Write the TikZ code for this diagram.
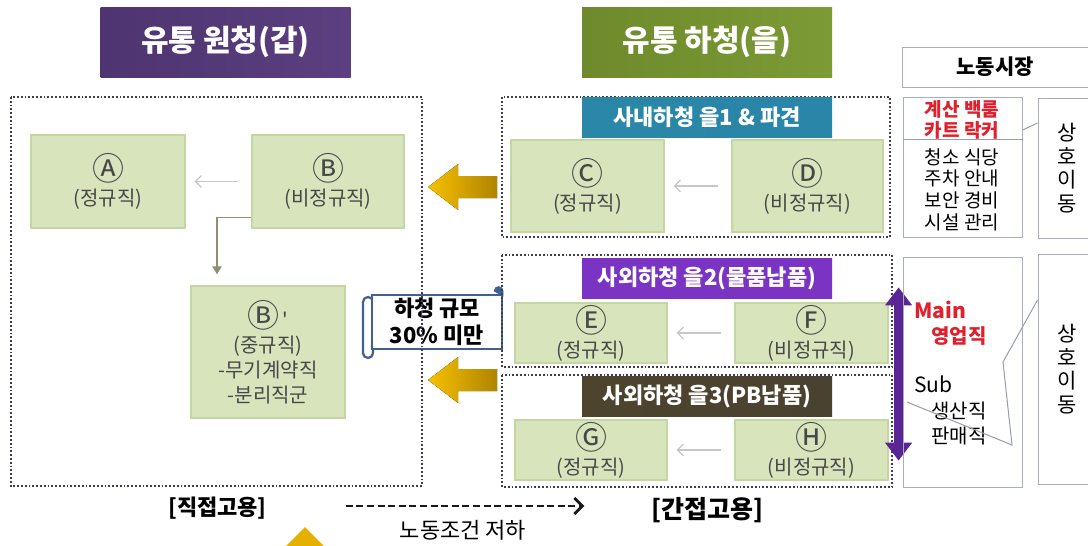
\documentclass[tikz,border=0pt]{standalone}
\usepackage{fontspec}
\setmainfont{Noto Sans CJK KR}
\usetikzlibrary{arrows.meta}

\definecolor{grfill}{HTML}{D8E4BC}
\definecolor{grline}{HTML}{C6D6A2}
\definecolor{grtext}{HTML}{474747}
\definecolor{dotline}{HTML}{3C3C55}
\definecolor{goldL}{HTML}{F6C000}
\definecolor{goldR}{HTML}{B08400}
\definecolor{mktline}{HTML}{A9AFBA}
\definecolor{jobred}{HTML}{E0202C}
\definecolor{scrollblue}{HTML}{40608F}
\definecolor{purpArrow}{HTML}{5A2696}
%% header shades
\definecolor{gapL}{HTML}{4E3470}\definecolor{gapM}{HTML}{2C1746}\definecolor{gapR}{HTML}{5B3F80}
\definecolor{eulL}{HTML}{6E8A2C}\definecolor{eulM}{HTML}{4B6418}\definecolor{eulR}{HTML}{7C9A35}
\definecolor{tealL}{HTML}{2A87A8}\definecolor{tealM}{HTML}{0F4F6A}\definecolor{tealR}{HTML}{2A86A8}
\definecolor{vioL}{HTML}{7B33C4}\definecolor{vioM}{HTML}{5A1C97}\definecolor{vioR}{HTML}{7B33C4}
\definecolor{drkL}{HTML}{4D442E}\definecolor{drkM}{HTML}{28221A}\definecolor{drkR}{HTML}{4A4230}

\newcommand{\circLetter}[1]{{\fontsize{16}{12.5}\selectfont #1}}
\newcommand{\pxu}{0.5pt}

\begin{document}
\begin{tikzpicture}[x=0.5pt, y=-0.5pt,
    grbox/.style={draw=grline, fill=grfill, text=grtext, align=center, inner sep=0pt,
        line width=0.6pt, font=\fontsize{10}{12.5}\selectfont},
    bigtitle/.style={text=white, inner sep=0pt, minimum width=125pt, minimum height=35pt,
        font=\bfseries\fontsize{15}{17}\selectfont},
    hdr/.style={text=white, inner sep=0pt, minimum width=125pt, minimum height=20pt,
        font=\bfseries\fontsize{11}{13}\selectfont},
    dotbox/.style={draw=dotline, densely dotted, line width=0.9pt},
    flowarr/.style={draw=black!22, line width=0.6pt, -{Straight Barb[length=3pt,width=6pt]},
        shorten <=6.5pt, shorten >=4.5pt},
    elbowarr/.style={draw=black!65!olive!60, line width=0.9pt, -{Triangle[length=4pt,width=4.5pt]}},
    goldarrow/.style={left color=goldL, right color=goldR},
    mktbox/.style={draw=mktline, line width=0.5pt, inner sep=0pt},
    mktline/.style={draw=mktline!90!black, line width=0.5pt},
    scrollEdge/.style={draw=scrollblue, line width=1.1pt},
    dashArr/.style={draw=black!90, line width=1.4pt, dash pattern=on 3.5pt off 1.8pt,
        -{Straight Barb[length=4pt,width=8pt]}}]
    \useasboundingbox (0,0) rectangle (1088,546);

    %% titles
    \node[bigtitle, left color=gapL, middle color=gapM, right color=gapR] (gapTitle) at (225.5,42) {유통 원청(갑)};
    \node[bigtitle, left color=eulL, middle color=eulM, right color=eulR] (eulTitle) at (707,42) {유통 하청(을)};

    %% scroll label (하청 규모)
    \draw[scrollEdge, fill=white, rounded corners=2.5pt] (363,297) rectangle (373,358);
    \node[scrollEdge, fill=white, minimum width=130*\pxu, minimum height=54*\pxu, inner sep=0pt,
        align=center, font=\bfseries\fontsize{11}{13.5}\selectfont] (limitNote) at (437,322) {하청 규모\\30\% 미만};
    \filldraw[scrollblue] (503,296) -- (503,291) arc[start angle=0, end angle=180, radius=2.2pt] -- cycle;

    %% dotted groups
    \draw[dotbox] (11,97) rectangle (422,486);
    \draw[dotbox] (502,97) rectangle (890,237);
    \draw[dotbox] (502,255) rectangle (892,367);
    \draw[dotbox] (502,375) rectangle (892,487);

    %% group headers
    \node[hdr, left color=tealL, middle color=tealM, right color=tealR] (eulHdrA) at (707,117) {사내하청 을1 \& 파견};
    \node[hdr, left color=vioL, middle color=vioM, right color=vioR] (eulHdrB) at (707,278) {사외하청 을2(물품납품)};
    \node[hdr, left color=drkL, middle color=drkM, right color=drkR] (eulHdrC) at (707,396) {사외하청 을3(PB납품)};

    %% green boxes
    \node[grbox, minimum width=77pt, minimum height=46.5pt] (boxA) at (108,181.5) {\circLetter{Ⓐ}\\(정규직)};
    \node[grbox, minimum width=76pt, minimum height=46.5pt] (boxB) at (328,181.5) {\circLetter{Ⓑ}\\(비정규직)};
    \node[grbox, minimum width=77pt, minimum height=66pt] (boxBp) at (268,352)
        {\circLetter{Ⓑ}\,\textquotesingle\\(중규직)\\-무기계약직\\-분리직군};
    \node[grbox, minimum width=76.5pt, minimum height=46pt] (boxC) at (587.5,186) {\circLetter{Ⓒ}\\(정규직)};
    \node[grbox, minimum width=75.5pt, minimum height=46pt] (boxD) at (807.5,186) {\circLetter{Ⓓ}\\(비정규직)};
    \node[grbox, minimum width=76pt, minimum height=30pt] (boxE) at (591,333) {\circLetter{Ⓔ}\\(정규직)};
    \node[grbox, minimum width=76.5pt, minimum height=30pt] (boxF) at (811.5,333) {\circLetter{Ⓕ}\\(비정규직)};
    \node[grbox, minimum width=76pt, minimum height=30pt] (boxG) at (591,450) {\circLetter{Ⓖ}\\(정규직)};
    \node[grbox, minimum width=76.5pt, minimum height=30pt] (boxH) at (811.5,450) {\circLetter{Ⓗ}\\(비정규직)};

    \foreach \src/\dst in {boxB/boxA, boxD/boxC, boxF/boxE, boxH/boxG}
        \draw[flowarr] (\src) -- (\dst);
    \draw[elbowarr] ([yshift=-18pt]boxB.west) -| ([xshift=-25.5pt,yshift=5.5pt]boxBp.north);

    %% gold arrows into 원청
    \foreach \ay in {187,380}
        \fill[goldarrow] (428,\ay) -- ++(30,-23) -- ++(0,12) -- ++(39,0) -- ++(0,22) -- ++(-39,0) -- ++(0,12) -- cycle;

    %% purple double arrow
    \draw[purpArrow, line width=5pt, {Triangle[length=9pt,width=13pt]}-{Triangle[length=9pt,width=13pt]}]
        ([xshift=5pt,yshift=7.5pt]boxF.north east) -- ([xshift=5pt,yshift=10pt]boxH.south east);

    %% labour market column
    \node[mktbox, minimum width=93pt, minimum height=20pt, font=\bfseries\fontsize{10.5}{12}\selectfont]
        (laborMkt) at (995,67) {노동시장};
    \node[mktbox, minimum width=59.5pt, minimum height=70pt] (jobsUp) at (962.5,167) {};
    \node[mktbox, minimum width=29pt, minimum height=70pt, align=center, font=\fontsize{10.5}{11.75}\selectfont]
        (moveUp) at (1067,168) {상\\호\\이\\동};
    \coordinate (divLine) at (0,139);
    \draw[mktline] (jobsUp.west |- divLine) -- (jobsUp.east |- divLine);
    \node[text=jobred, align=center, font=\bfseries\fontsize{9.5}{10.4}\selectfont] (jobsRed) at (962,120) {계산 백룸\\카트 락커};
    \node[align=center, font=\fontsize{9.5}{10.8}\selectfont] (jobsBlack) at (962,189.5) {청소 식당\\주차 안내\\보안 경비\\시설 관리};
    \draw[mktline] ([yshift=18.5pt]jobsUp.east) -- ([yshift=22.5pt]moveUp.west);

    \node[mktbox, minimum width=59.5pt, minimum height=115pt] (jobsLow) at (962.5,372) {};
    \node[mktbox, minimum width=29pt, minimum height=115pt, align=center, font=\fontsize{10.5}{11.75}\selectfont]
        (moveLow) at (1067,369) {상\\호\\이\\동};
    \node[anchor=west, inner sep=0pt, text=jobred, font=\bfseries\fontsize{10.5}{12}\selectfont] (mainLbl) at (914,310) {Main};
    \node[anchor=west, inner sep=0pt, text=jobred, font=\bfseries\fontsize{10}{12}\selectfont] (salesJob) at (931,336) {영업직};
    \node[anchor=west, inner sep=0pt, font=\fontsize{10.5}{12}\selectfont] (subLbl) at (914,384) {Sub};
    \node[anchor=west, inner sep=0pt, font=\fontsize{10}{12}\selectfont] (prodJob) at (931,411) {생산직};
    \node[anchor=west, inner sep=0pt, font=\fontsize{10}{12}\selectfont] (retailJob) at (931,436) {판매직};
    \coordinate (bendPt) at (1003,362);
    \coordinate (meetPt) at (1012,445);
    \coordinate (subFoot) at (907,402);
    \draw[mktline] ([yshift=34.5pt]moveLow.west) -- (bendPt) -- (meetPt) -- (subFoot);

    %% bottom labels
    \node[font=\bfseries\fontsize{11}{13}\selectfont] (directEmp) at (217.5,508) {[직접고용]};
    \node[font=\bfseries\fontsize{12.5}{14}\selectfont] (indirectEmp) at (707.5,510) {[간접고용]};
    \draw[dashArr, shorten <=36pt, shorten >=30pt] ([yshift=1pt]directEmp.east) -- ([yshift=1pt]directEmp.east -| indirectEmp.west);
    \node[font=\fontsize{11}{13}\selectfont] (laborDecline) at (463,530) {노동조건 저하};
    \fill[goldL!75!goldR] (305,527) -- (328,550) -- (282,550) -- cycle;
\end{tikzpicture}
\end{document}
